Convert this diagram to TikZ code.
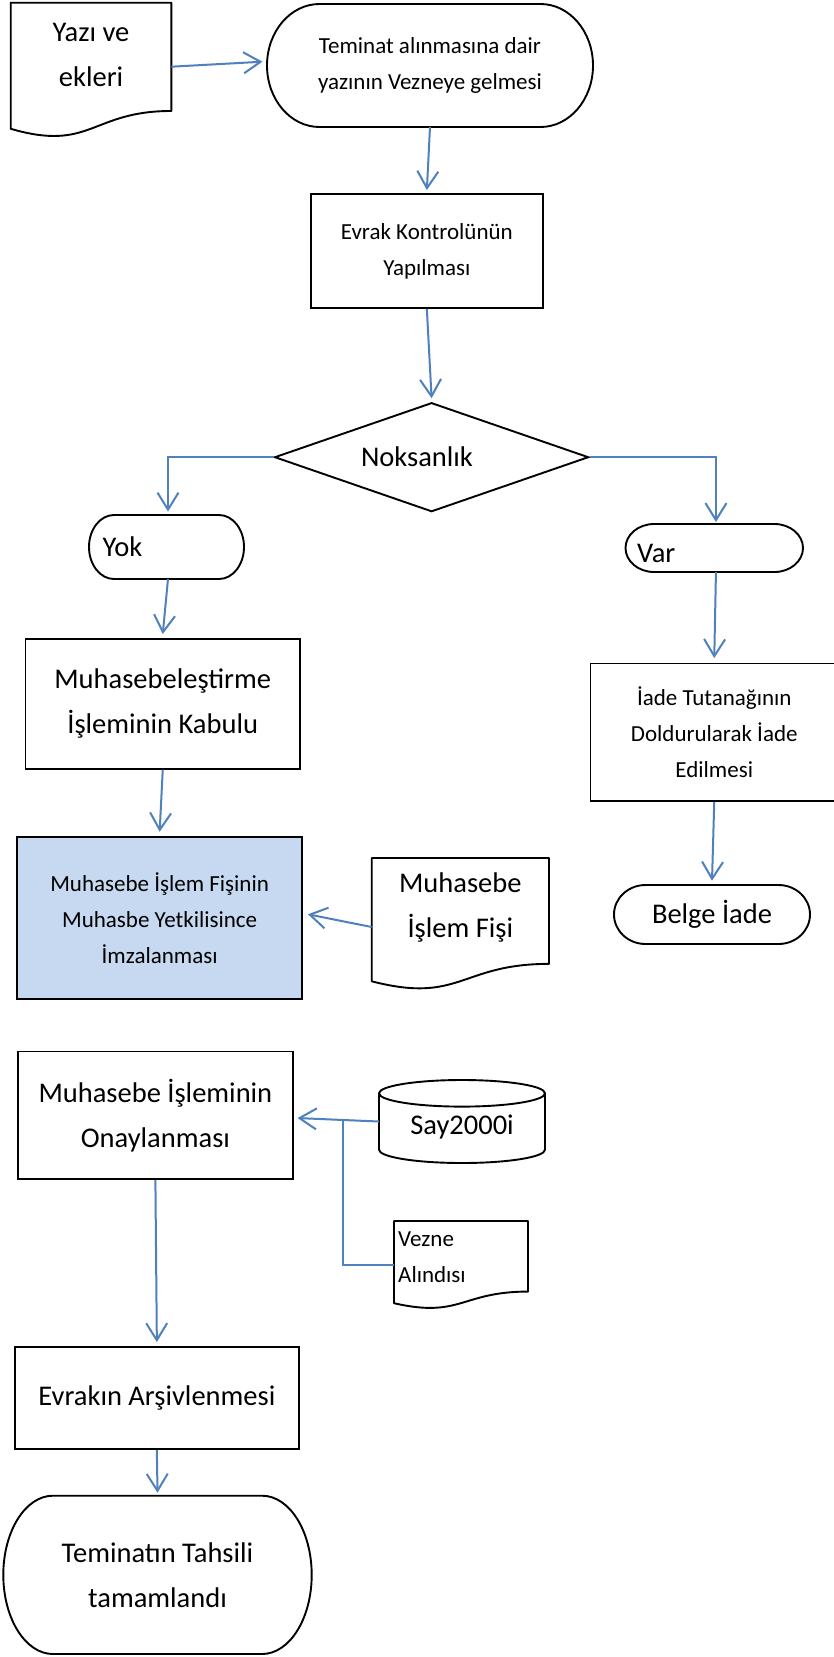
\documentclass[tikz,border=0pt]{standalone}
\usepackage{fontspec}
\setmainfont{Carlito}
\usetikzlibrary{calc,arrows.meta,shapes.geometric}
\definecolor{arrowblue}{HTML}{4F81BD}
\definecolor{fillblue}{HTML}{C6D9F0}
\newcommand\bigtxt{\fontsize{28.5}{45}\selectfont}
\newcommand\smalltxt{\fontsize{23}{36}\selectfont}
% terminator outline: x0, y0 (top), width, height
\newcommand\termshape[4]{\draw[shapeline] ({#1+0.161*#3},#2) -- ({#1+0.839*#3},#2) arc[start angle=90,end angle=-90,x radius={0.161*#3*1pt},y radius={0.5*#4*1pt}] -- ({#1+0.161*#3},{#2+#4}) arc[start angle=270,end angle=90,x radius={0.161*#3*1pt},y radius={0.5*#4*1pt}] -- cycle;}
% document outline around a node
\newcommand\docshape[1]{\draw[shapeline] (#1.north west) -- (#1.north east) -- ($(#1.north east)!0.802!(#1.south east)$) .. controls ($(#1.north)!0.802!(#1.south)$) and ($(#1.north)!1.1075!(#1.south)$) .. ($(#1.north west)!0.934!(#1.south west)$) -- cycle;}
\begin{document}
\begin{tikzpicture}[x=1pt,y=-1pt,
  shapeline/.style={draw=black,line width=1.9pt,line join=round},
  shp/.style={inner sep=0pt,outer sep=0pt,draw=none,rectangle},
  txt/.style={inner sep=0pt,align=center,font=\bigtxt},
  box/.style={txt,draw=black,line width=1.9pt,rectangle},
  flow/.style={draw=arrowblue,line width=2pt,-{Straight Barb[length=17pt,width=21pt]}},
  link/.style={draw=arrowblue,line width=2pt}]
\fill[white] (0,0) rectangle (833,1657);
\useasboundingbox (0,0) rectangle (833,1657);

% nodes
\node[shp,minimum width=160.7pt,minimum height=135pt,label={[txt,yshift=15pt]center:Yazı ve\\ekleri}] (yazi) at (91.05,70.2) {};
\docshape{yazi}

\node[shp,txt,font=\smalltxt,minimum width=326pt,minimum height=123pt] (t1) at (430,65.5) {Teminat alınmasına dair\\yazının Vezneye gelmesi};
\termshape{267}{4}{326}{123}

\node[box,font=\smalltxt,minimum width=232.3pt,minimum height=114pt] (evrak) at (426.85,251) {Evrak Kontrolünün\\Yapılması};

\node[diamond,draw=black,line width=1.9pt,inner sep=0pt,minimum width=314pt,minimum height=109pt,label={[txt,xshift=-14.6pt]center:Noksanlık}] (dia) at (431.6,457.2) {};

\node[shp,minimum width=155pt,minimum height=64pt,label={[txt,anchor=west,xshift=13.5pt]west:Yok}] (yok) at (166.5,547) {};
\termshape{89}{515}{155}{64}

\node[shp,minimum width=177.5pt,minimum height=48pt,label={[txt,anchor=west,xshift=11.5pt,yshift=-5pt]west:Var}] (var) at (714.25,548) {};
\termshape{625.5}{524}{177.5}{48}

\node[box,minimum width=274.5pt,minimum height=129.7pt] (muh1) at (162.75,703.85) {Muhasebeleştirme\\İşleminin Kabulu};

\node[box,font=\smalltxt,minimum width=247.5pt,minimum height=137.5pt] (iade) at (714.25,732.25) {İade Tutanağının\\Doldurularak İade\\Edilmesi};

\node[box,fill=fillblue,font=\smalltxt,minimum width=284.7pt,minimum height=162.6pt] (imza) at (159.65,918) {Muhasebe İşlem Fişinin\\Muhasbe Yetkilisince\\İmzalanması};

\node[shp,txt,minimum width=196pt,minimum height=59pt] (belge) at (712,914.5) {Belge İade};
\termshape{614}{885}{196}{59}

\node[shp,minimum width=177.3pt,minimum height=132pt,label={[txt,yshift=16.5pt]center:Muhasebe\\İşlem Fişi}] (mfis) at (460.35,924) {};
\docshape{mfis}

\node[box,minimum width=274.8pt,minimum height=127.5pt] (onay) at (155.4,1115.25) {Muhasebe İşleminin\\Onaylanması};

\node[shp,minimum width=166pt,minimum height=83pt,label={[txt,yshift=-5.5pt]center:Say2000i}] (say) at (462,1121.5) {};
\draw[shapeline] (379,1093.3) -- (379,1149.7) arc[start angle=180,end angle=360,x radius=83pt,y radius=13.3pt] -- (545,1093.3);
\draw[shapeline] (462,1093.3) ellipse[x radius=83pt,y radius=13.3pt];

\node[shp,minimum width=134pt,minimum height=88pt,label={[txt,font=\smalltxt,align=left,anchor=west,xshift=4pt,yshift=8pt]west:Vezne\\Alındısı}] (vezne) at (461,1265) {};
\docshape{vezne}

\node[box,minimum width=284.3pt,minimum height=102.3pt] (arsiv) at (156.85,1397.85) {Evrakın Arşivlenmesi};

\node[shp,txt,minimum width=308.4pt,minimum height=158.3pt] (teminat) at (157.5,1574.85) {Teminatın Tahsili\\tamamlandı};
\termshape{3.3}{1495.7}{308.4}{158.3}

\coordinate (j) at (343,1120);

% connectors
\draw[flow] ([yshift=3.5pt]yazi.east) -- ([xshift=-4.5pt,yshift=3.8pt]t1.west);
\draw[flow] (t1.south) -- ([yshift=3pt]evrak.north);
\draw[flow] (evrak.south) -- ([yshift=3.5pt]dia.north);
\draw[flow] (dia.west) -| ([xshift=1.5pt,yshift=3.5pt]yok.north);
\draw[flow] (dia.east) -| ([xshift=1.7pt,yshift=2pt]var.north);
\draw[flow] ([xshift=1.5pt]yok.south) -- ([yshift=4pt]muh1.north);
\draw[flow] ([xshift=1.7pt]var.south) -- ([yshift=4.5pt]iade.north);
\draw[flow] (muh1.south) -- ([yshift=4pt]imza.north);
\draw[flow] (iade.south) -- ([yshift=4.3pt]belge.north);
\draw[flow] ([yshift=-3pt]mfis.west) -- ([xshift=5pt,yshift=3.7pt]imza.east);
\draw[flow] (say.west) -- ([xshift=3.8pt,yshift=-2.8pt]onay.east);
\draw[link] (vezne.west) -| (j);
\draw[flow] (onay.south) -- ([yshift=3.7pt]arsiv.north);
\draw[flow] (arsiv.south) -- ([yshift=3pt]teminat.north);
\end{tikzpicture}
\end{document}
